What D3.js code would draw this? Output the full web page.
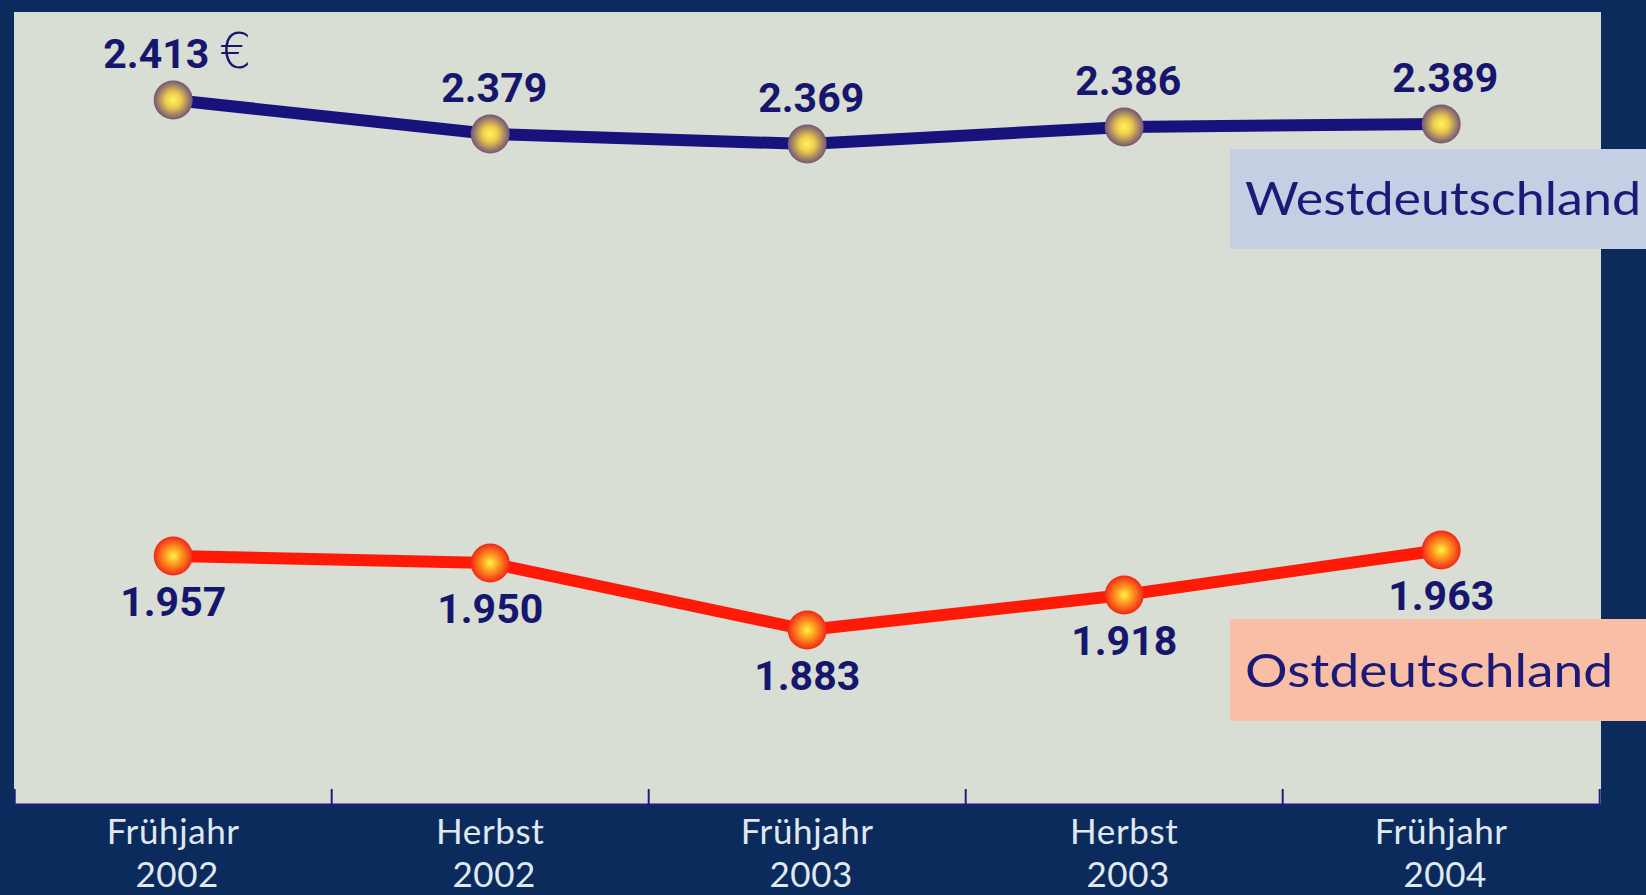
<!DOCTYPE html>
<html><head><meta charset="utf-8">
<script src="https://cdn.jsdelivr.net/npm/d3@7"></script>
<style>
html,body{margin:0;padding:0;background:#0c2b5d;}
svg{display:block;}
</style></head>
<body>
<svg id="chart" width="1646" height="895"></svg>
<script>
// ---- data ----
const categories = ["Frühjahr 2002", "Herbst 2002", "Frühjahr 2003", "Herbst 2003", "Frühjahr 2004"];
const tickLine1 = ["Frühjahr", "Herbst", "Frühjahr", "Herbst", "Frühjahr"];
const tickLine2 = ["2002", "2002", "2003", "2003", "2004"];
const westValues = [2413, 2379, 2369, 2386, 2389];
const ostValues = [1957, 1950, 1883, 1918, 1963];
const seriesNames = ["Westdeutschland", "Ostdeutschland"];
const currencySymbol = "€";

// ---- layout ----
const W = 1646, H = 895;
const panel = {left: 14, top: 12, right: 1601, bottom: 805};
const svg = d3.select("#chart");

const de = d3.formatLocale({decimal: ",", thousands: ".", grouping: [3], currency: ["", "€"]});
const fmt = de.format(",");

const x = d3.scaleBand().domain(categories).range([14.7, 1599.7]).padding(0);
const y = d3.scaleLinear().domain([1708, 2501]).range([805, 12]);
const cx = c => x(c) + x.bandwidth() / 2;

// background
svg.append("rect").attr("width", W).attr("height", H).attr("fill", "#0c2b5d");
svg.append("rect").attr("x", panel.left).attr("y", panel.top)
  .attr("width", panel.right - panel.left).attr("height", panel.bottom - panel.top)
  .attr("fill", "#d8ded3");

// gradients
const defs = svg.append("defs");
const gW = defs.append("radialGradient").attr("id", "gWest").attr("cx", "50%").attr("cy", "50%").attr("r", "50%");
gW.append("stop").attr("offset", "0%").attr("stop-color", "#fff45a");
gW.append("stop").attr("offset", "40%").attr("stop-color", "#eccb4c");
gW.append("stop").attr("offset", "100%").attr("stop-color", "#735476");
const gO = defs.append("radialGradient").attr("id", "gOst").attr("cx", "50%").attr("cy", "50%").attr("r", "50%");
gO.append("stop").attr("offset", "0%").attr("stop-color", "#fff44a");
gO.append("stop").attr("offset", "40%").attr("stop-color", "#ffa020");
gO.append("stop").attr("offset", "100%").attr("stop-color", "#f02818");

// legend boxes
const legendBoxes = [
  {name: seriesNames[0], y0: 149, y1: 249, fill: "#c5cfe4", base: 215, len: 396},
  {name: seriesNames[1], y0: 619, y1: 721, fill: "#f8bfa6", base: 687, len: 368}
];
legendBoxes.forEach(b => {
  svg.append("rect").attr("x", 1230).attr("y", b.y0).attr("width", W - 1230).attr("height", b.y1 - b.y0).attr("fill", b.fill);
  svg.append("text").attr("x", 1245).attr("y", b.base)
    .attr("font-family", "Lato, 'DejaVu Sans', sans-serif").attr("font-size", 46)
    .attr("textLength", b.len).attr("lengthAdjust", "spacingAndGlyphs")
    .attr("fill", "#1c1a78").text(b.name);
});

// axis line and ticks
const axisColor = "#1b1f78";
svg.append("line").attr("x1", panel.left).attr("x2", panel.right).attr("y1", 805).attr("y2", 805)
  .attr("stroke", axisColor).attr("stroke-width", 3);
const tickXs = categories.map(c => x(c)).concat([x.range()[1]]);
svg.selectAll(".tick").data(tickXs).join("line")
  .attr("x1", d => d).attr("x2", d => d).attr("y1", 789).attr("y2", 805)
  .attr("stroke", axisColor).attr("stroke-width", 2);

// tick labels (two separate text lines)
const tickFont = {family: "Lato, 'DejaVu Sans', sans-serif", size: 35, fill: "#e0e8f0"};
svg.selectAll(".xl1").data(categories).join("text")
  .attr("x", d => cx(d)).attr("y", 844).attr("text-anchor", "middle")
  .attr("font-family", tickFont.family).attr("font-size", tickFont.size).attr("fill", tickFont.fill)
  .attr("letter-spacing", 0.6)
  .text((d, i) => tickLine1[i]);
svg.selectAll(".xl2").data(categories).join("text")
  .attr("x", d => cx(d) + 4).attr("y", 887).attr("text-anchor", "middle")
  .attr("font-family", tickFont.family).attr("font-size", tickFont.size).attr("fill", tickFont.fill)
  .attr("letter-spacing", 0.6)
  .text((d, i) => tickLine2[i]);

// lines
const line = d3.line().x(d => cx(d.c)).y(d => y(d.v));
const westData = categories.map((c, i) => ({c, v: westValues[i]}));
const ostData = categories.map((c, i) => ({c, v: ostValues[i]}));
svg.append("path").datum(westData).attr("d", line).attr("fill", "none")
  .attr("stroke", "#17127c").attr("stroke-width", 12).attr("stroke-linejoin", "round");
svg.append("path").datum(ostData).attr("d", line).attr("fill", "none")
  .attr("stroke", "#ff1a08").attr("stroke-width", 12).attr("stroke-linejoin", "round");

// markers
svg.selectAll(".mw").data(westData).join("circle")
  .attr("cx", d => cx(d.c)).attr("cy", d => y(d.v)).attr("r", 19.5).attr("fill", "url(#gWest)");
svg.selectAll(".mo").data(ostData).join("circle")
  .attr("cx", d => cx(d.c)).attr("cy", d => y(d.v)).attr("r", 19.5).attr("fill", "url(#gOst)");

// value labels
const labelColor = "#17166e";
const wl = svg.selectAll(".wl").data(westData).join("text")
  .attr("x", d => cx(d.c) + 4).attr("y", d => y(d.v) - 32)
  .attr("text-anchor", "middle").attr("font-family", "Roboto, Lato, sans-serif")
  .attr("font-weight", 700).attr("font-size", 41).attr("fill", labelColor);
wl.append("tspan").text(d => fmt(d.v));
wl.filter((d, i) => i === 0).append("tspan").attr("font-weight", 300)
  .attr("font-size", 50).attr("dx", 10).attr("font-family", "'DejaVu Sans', sans-serif").text(currencySymbol);

svg.selectAll(".ol").data(ostData).join("text")
  .attr("x", d => cx(d.c)).attr("y", d => y(d.v) + 60)
  .attr("text-anchor", "middle").attr("font-family", "Roboto, Lato, sans-serif")
  .attr("font-weight", 700).attr("font-size", 41).attr("fill", labelColor)
  .text(d => fmt(d.v));
</script>
</body></html>
